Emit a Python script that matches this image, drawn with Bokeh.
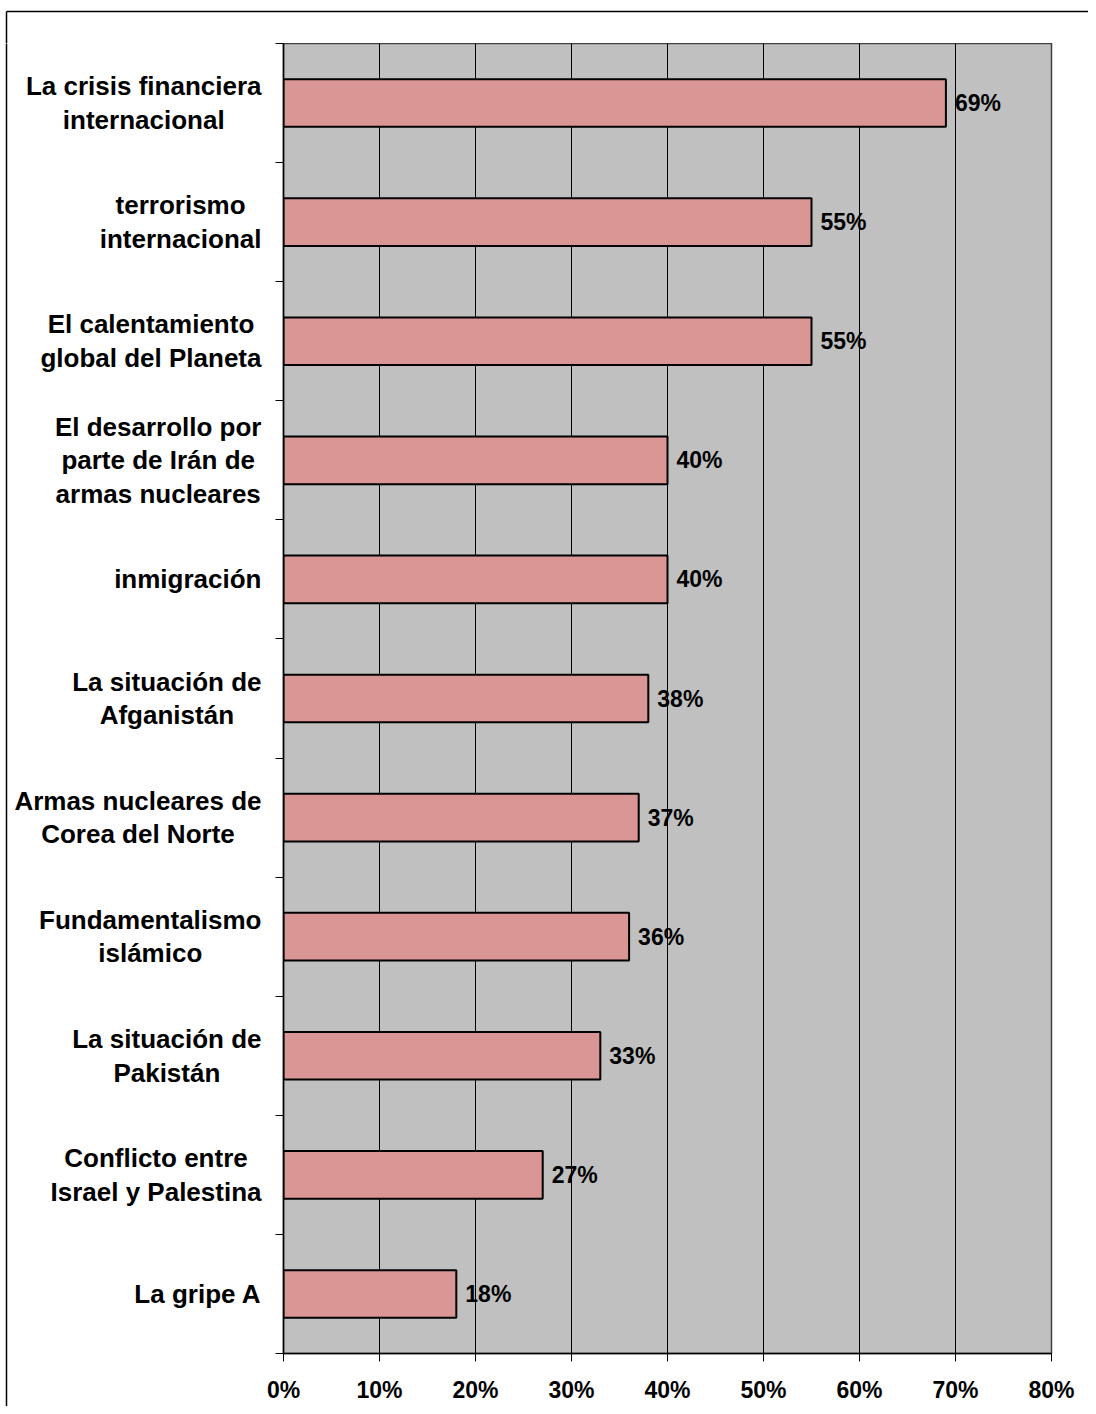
from bokeh.plotting import figure
from bokeh.layouts import column, row
from bokeh.models import Range1d, FixedTicker, NumeralTickFormatter, ColumnDataSource
from bokeh.embed import file_html
from bokeh.resources import INLINE
from bokeh.core.properties import value

# ---- data ----
categories = [
    "La crisis financiera\ninternacional",
    "terrorismo\ninternacional",
    "El calentamiento\nglobal del Planeta",
    "El desarrollo por\nparte de Irán de\narmas nucleares",
    "inmigración",
    "La situación de\nAfganistán",
    "Armas nucleares de\nCorea del Norte",
    "Fundamentalismo\nislámico",
    "La situación de\nPakistán",
    "Conflicto entre\nIsrael y Palestina",
    "La gripe A",
]
values = [0.69, 0.55, 0.55, 0.40, 0.40, 0.38, 0.37, 0.36, 0.33, 0.27, 0.18]
value_labels = ["69%", "55%", "55%", "40%", "40%", "38%", "37%", "36%", "33%", "27%", "18%"]
x_ticks = [0.0, 0.1, 0.2, 0.3, 0.4, 0.5, 0.6, 0.7, 0.8]

# ---- layout constants ----
FONT = "Liberation Sans"
TOP_H = 43            # strip above the plot area
LEFT_W = 263          # label column width
AXIS_W = 20           # main figure left border (ticks)
FRAME_W, FRAME_H = 768, 1310
BOTTOM_H = 53
RIGHT_W = 37
TOTAL_W = LEFT_W + AXIS_W + FRAME_W + RIGHT_W
X_MAX = 0.8
n = len(categories)
px_y = n / FRAME_H

# Arial/Liberation Sans Bold advance widths (per 1000 em)
W = {" ": 278, "A": 722, "C": 722, "E": 667, "F": 611, "I": 278, "L": 611, "N": 722,
     "P": 667, "a": 556, "b": 611, "c": 556, "d": 611, "e": 556, "f": 333, "g": 611,
     "h": 611, "i": 278, "j": 278, "k": 556, "l": 278, "m": 889, "n": 611, "o": 611,
     "p": 611, "q": 611, "r": 389, "s": 556, "t": 333, "u": 611, "v": 556, "w": 778,
     "x": 556, "y": 556, "z": 500, "á": 556, "é": 556, "í": 278, "ó": 611, "ú": 611}

def text_w(s, size):
    return sum(W.get(c, 556) for c in s) / 1000.0 * size

ys = [n - i - 0.5 for i in range(n)]
src = ColumnDataSource(dict(y=ys, v=values, lbl=value_labels))
y_rng = Range1d(0, n)

# ---- main plot ----
p = figure(frame_width=FRAME_W, frame_height=FRAME_H,
           min_border_left=AXIS_W, min_border_right=RIGHT_W, min_border_top=0,
           min_border_bottom=BOTTOM_H,
           x_range=Range1d(0, X_MAX), y_range=y_rng,
           output_backend="svg", toolbar_location=None,
           background_fill_color="#C0C0C0", border_fill_color="white")
p.outline_line_color = "#404040"
p.outline_line_width = 1.5

xt = FixedTicker(ticks=x_ticks)
p.xaxis.ticker = xt
p.xaxis.formatter = NumeralTickFormatter(format="0%")
p.xaxis.axis_line_color = "black"
p.xaxis.axis_line_width = 1.5
p.xaxis.major_tick_out = 8
p.xaxis.major_tick_in = 0
p.xaxis.major_tick_line_color = "black"
p.xaxis.minor_tick_line_color = None
p.xaxis.major_label_text_font = FONT
p.xaxis.major_label_text_font_style = "bold"
p.xaxis.major_label_text_font_size = "23px"
p.xaxis.major_label_text_color = "black"
p.xaxis.major_label_standoff = 15

p.yaxis.ticker = FixedTicker(ticks=list(range(n + 1)))
p.yaxis.major_label_overrides = {i: "" for i in range(n + 1)}
p.yaxis.axis_line_color = "black"
p.yaxis.axis_line_width = 1.5
p.yaxis.major_tick_out = 8
p.yaxis.major_tick_in = 0
p.yaxis.major_tick_line_color = "black"
p.yaxis.minor_tick_line_color = None
p.yaxis.major_label_text_font_size = "1px"
p.yaxis.major_label_standoff = 0

p.ygrid.visible = False
p.xgrid.ticker = xt
p.xgrid.grid_line_color = "black"
p.xgrid.grid_line_width = 1

p.hbar(y="y", left=0, right="v", height=0.4, source=src,
       fill_color="#DA9694", line_color="black", line_width=2)

p.text(x="v", y="y", text="lbl", source=src, x_offset=9,
       text_align="left", text_baseline="middle",
       text_font=value(FONT), text_font_style="bold", text_font_size="23px",
       text_color="black")

# ---- label column (pixel x coords, shared y data coords) ----
lf = figure(frame_width=LEFT_W, frame_height=FRAME_H + BOTTOM_H,
            min_border_left=0, min_border_right=0, min_border_top=0, min_border_bottom=0,
            x_range=Range1d(0, LEFT_W), y_range=Range1d(-BOTTOM_H * px_y, n),
            x_axis_location=None, y_axis_location=None,
            output_backend="svg", toolbar_location=None,
            background_fill_color="white", border_fill_color="white")
lf.outline_line_color = None
lf.grid.visible = False

CAT_SIZE = 26
LINE_H = 33.5
RIGHT_EDGE = 261
lx, ly, lt = [], [], []
for i, cat in enumerate(categories):
    lines = cat.split("\n")
    m = len(lines)
    maxw = max(text_w(l, CAT_SIZE) for l in lines)
    cx = RIGHT_EDGE - maxw / 2.0
    for j, line in enumerate(lines):
        dy = (j - (m - 1) / 2.0) * LINE_H
        lx.append(cx)
        ly.append(ys[i] - dy * px_y)
        lt.append(line)
lf.text(x=lx, y=ly, text=lt, text_align="center", text_baseline="middle",
        text_font=value(FONT), text_font_style="bold",
        text_font_size=f"{CAT_SIZE}px", text_color="black")
# outer chart-area border (left edge)
lf.segment(x0=[6], y0=[-BOTTOM_H * px_y * 2], x1=[6], y1=[n * 2],
           line_color="black", line_width=1.5)

# ---- top strip (outer border, top edge) ----
tf = figure(frame_width=TOTAL_W, frame_height=TOP_H,
            min_border_left=0, min_border_right=0, min_border_top=0, min_border_bottom=0,
            x_range=Range1d(0, TOTAL_W), y_range=Range1d(TOP_H, 0),
            x_axis_location=None, y_axis_location=None,
            output_backend="svg", toolbar_location=None,
            background_fill_color="white", border_fill_color="white")
tf.outline_line_color = None
tf.grid.visible = False
tf.segment(x0=[6, 6], y0=[11, 11], x1=[TOTAL_W + 10, 6], y1=[11, TOP_H + 10],
           line_color="black", line_width=1.5)

layout = column(tf, row(lf, p, spacing=0), spacing=0)
open("out.html", "w").write(file_html(layout, INLINE))
